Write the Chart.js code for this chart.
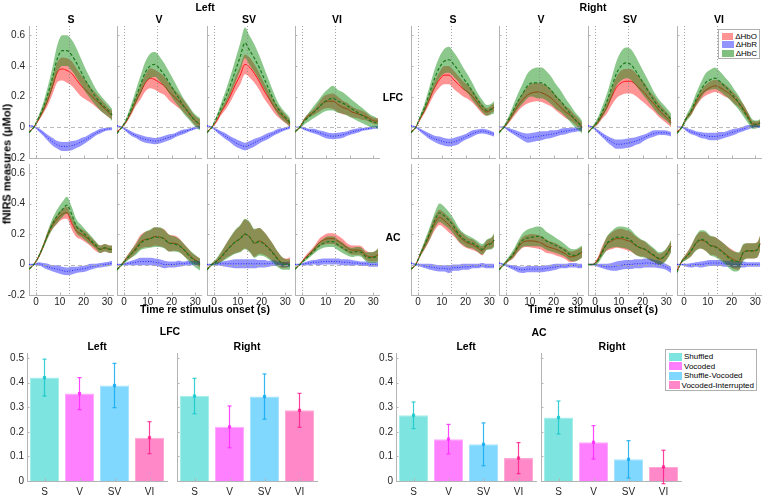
<!DOCTYPE html>
<html lang="en"><head><meta charset="utf-8">
<title>fNIRS responses</title>
<script src="https://cdn.jsdelivr.net/npm/chart.js@4"></script>
<style>
  body { margin: 0; width: 764px; height: 496px; position: relative; overflow: hidden; background: #fff;
         font-family: "Liberation Sans", Arial, sans-serif; color: #000; }
  canvas { position: absolute; }
  .lbl { position: absolute; font-weight: bold; white-space: nowrap; transform: translate(-50%, -50%); line-height: 1; }
  .legend { position: absolute; border: 1px solid #b0b0b0; background: #fff; font-size: 8px; box-sizing: border-box; padding: 2px 2px 0 3px; }
  .legend div { display: flex; align-items: center; white-space: nowrap; }
  .legend span { display: inline-block; width: 13px; margin-right: 2px; }
</style>
</head>
<body>
<script>
// time axis of the block averages (s re stimulus onset)
const T = [-3, -1, 1, 3, 5, 7, 9, 11, 13, 15, 17, 19, 21, 23, 25, 27, 29, 31, 32];
const CONDITIONS = ['S', 'V', 'SV', 'VI'];
const REF_LINES = [0, 13.7];
const X_TICKS = [0, 10, 20, 30];
const Y_TICKS = [-0.2, 0, 0.2, 0.4, 0.6];
const BAR_TICKS = [0, 0.1, 0.2, 0.3, 0.4, 0.5];

// rows = S, V, SV, VI  (mean and s.e.m., µMol)
// ---- LFC, left
const hboLfcL = [
  [-0.03,0.0,0.05,0.11,0.18,0.27,0.36,0.38,0.37,0.35,0.31,0.27,0.24,0.21,0.18,0.15,0.12,0.09,0.08],
  [-0.03,0.0,0.04,0.1,0.17,0.23,0.29,0.32,0.31,0.29,0.27,0.23,0.2,0.17,0.14,0.1,0.06,0.03,0.02],
  [-0.03,0.0,0.04,0.1,0.15,0.21,0.28,0.34,0.41,0.39,0.35,0.3,0.24,0.19,0.14,0.1,0.07,0.04,0.02],
  [-0.03,0.0,0.05,0.08,0.1,0.13,0.16,0.17,0.17,0.15,0.13,0.12,0.1,0.09,0.08,0.07,0.05,0.04,0.04]];
const hboLfcLSem = [
  [0.005,0.005,0.01,0.02,0.035,0.05,0.065,0.075,0.08,0.08,0.075,0.07,0.06,0.05,0.045,0.04,0.035,0.03,0.03],
  [0.005,0.005,0.01,0.02,0.03,0.045,0.055,0.065,0.065,0.065,0.06,0.055,0.05,0.045,0.04,0.035,0.03,0.03,0.03],
  [0.005,0.005,0.01,0.02,0.03,0.04,0.05,0.06,0.065,0.065,0.06,0.055,0.05,0.045,0.04,0.035,0.03,0.025,0.02],
  [0.005,0.005,0.01,0.015,0.02,0.03,0.04,0.045,0.05,0.05,0.045,0.04,0.035,0.03,0.03,0.025,0.02,0.02,0.02]];
const hbrLfcL = [
  [0.01,0.005,-0.015,-0.04,-0.07,-0.095,-0.115,-0.125,-0.125,-0.12,-0.11,-0.095,-0.08,-0.06,-0.04,-0.025,-0.015,-0.01,-0.01],
  [0.01,0.0,-0.02,-0.04,-0.055,-0.07,-0.08,-0.085,-0.09,-0.085,-0.075,-0.065,-0.055,-0.04,-0.03,-0.02,-0.01,0.0,0.0],
  [0.01,0.0,-0.02,-0.04,-0.06,-0.08,-0.1,-0.115,-0.125,-0.115,-0.1,-0.085,-0.07,-0.055,-0.04,-0.025,-0.015,-0.005,0.0],
  [0.0,0.0,-0.01,-0.02,-0.025,-0.035,-0.045,-0.055,-0.058,-0.055,-0.05,-0.04,-0.03,-0.022,-0.015,-0.01,-0.005,0.0,0.0]];
const hbrLfcLSem = [
  [0.005,0.005,0.01,0.015,0.02,0.025,0.025,0.03,0.03,0.03,0.025,0.025,0.02,0.02,0.015,0.015,0.01,0.01,0.01],
  [0.005,0.005,0.01,0.015,0.015,0.02,0.02,0.02,0.02,0.02,0.02,0.02,0.015,0.015,0.015,0.01,0.01,0.01,0.01],
  [0.005,0.005,0.01,0.015,0.02,0.02,0.025,0.025,0.025,0.025,0.025,0.02,0.02,0.02,0.015,0.015,0.01,0.01,0.01],
  [0.005,0.005,0.01,0.01,0.015,0.015,0.02,0.02,0.02,0.02,0.02,0.015,0.015,0.015,0.01,0.01,0.01,0.01,0.01]];
const hbcLfcL = [
  [-0.035,0.0,0.06,0.13,0.22,0.33,0.45,0.5,0.5,0.47,0.42,0.36,0.3,0.25,0.2,0.16,0.13,0.1,0.08],
  [-0.04,0.0,0.05,0.12,0.2,0.28,0.36,0.4,0.41,0.38,0.34,0.29,0.24,0.19,0.14,0.1,0.06,0.03,0.02],
  [-0.035,0.0,0.06,0.13,0.2,0.28,0.37,0.46,0.55,0.5,0.45,0.39,0.32,0.25,0.18,0.12,0.08,0.05,0.03],
  [-0.03,0.0,0.04,0.07,0.1,0.13,0.16,0.18,0.19,0.17,0.16,0.14,0.12,0.1,0.08,0.06,0.04,0.03,0.02]];
const hbcLfcLSem = [
  [0.005,0.005,0.015,0.03,0.05,0.07,0.09,0.1,0.1,0.1,0.095,0.085,0.075,0.065,0.055,0.05,0.045,0.04,0.04],
  [0.005,0.005,0.015,0.03,0.045,0.06,0.07,0.08,0.08,0.08,0.075,0.07,0.065,0.055,0.05,0.045,0.04,0.04,0.04],
  [0.005,0.005,0.015,0.03,0.045,0.06,0.075,0.09,0.1,0.095,0.09,0.08,0.07,0.06,0.05,0.04,0.035,0.03,0.03],
  [0.005,0.01,0.02,0.03,0.04,0.05,0.06,0.07,0.08,0.075,0.07,0.065,0.06,0.055,0.05,0.045,0.04,0.035,0.03]];

// ---- LFC, right
const hboLfcR = [
  [-0.03,0.0,0.06,0.12,0.19,0.26,0.31,0.34,0.34,0.31,0.28,0.25,0.23,0.2,0.16,0.12,0.1,0.12,0.13],
  [-0.03,0.0,0.04,0.09,0.14,0.18,0.21,0.225,0.23,0.225,0.21,0.19,0.16,0.13,0.1,0.08,0.05,0.02,0.0],
  [-0.03,0.0,0.03,0.08,0.13,0.2,0.26,0.29,0.3,0.3,0.28,0.25,0.22,0.18,0.15,0.11,0.08,0.05,0.03],
  [-0.03,0.0,0.06,0.1,0.16,0.21,0.24,0.26,0.27,0.26,0.24,0.22,0.19,0.16,0.12,0.07,0.02,0.02,0.03]];
const hboLfcRSem = [
  [0.005,0.005,0.01,0.02,0.03,0.04,0.05,0.06,0.06,0.06,0.055,0.05,0.045,0.04,0.035,0.03,0.025,0.025,0.025],
  [0.005,0.005,0.015,0.025,0.035,0.045,0.055,0.06,0.06,0.06,0.06,0.055,0.05,0.045,0.04,0.035,0.03,0.03,0.03],
  [0.005,0.005,0.015,0.025,0.04,0.055,0.07,0.08,0.08,0.08,0.075,0.07,0.065,0.055,0.05,0.045,0.04,0.035,0.03],
  [0.005,0.005,0.01,0.02,0.025,0.03,0.035,0.04,0.04,0.04,0.04,0.035,0.035,0.03,0.03,0.025,0.02,0.02,0.02]];
const hbrLfcR = [
  [0.01,0.0,-0.02,-0.04,-0.06,-0.075,-0.085,-0.095,-0.1,-0.095,-0.085,-0.07,-0.055,-0.04,-0.03,-0.025,-0.03,-0.04,-0.045],
  [0.0,0.0,-0.015,-0.03,-0.045,-0.06,-0.07,-0.065,-0.06,-0.055,-0.05,-0.045,-0.04,-0.03,-0.025,-0.02,-0.015,-0.01,-0.01],
  [0.01,0.0,-0.025,-0.05,-0.075,-0.095,-0.11,-0.11,-0.105,-0.1,-0.09,-0.08,-0.065,-0.05,-0.04,-0.035,-0.035,-0.04,-0.045],
  [0.0,0.0,-0.015,-0.03,-0.04,-0.05,-0.055,-0.06,-0.06,-0.055,-0.05,-0.04,-0.03,-0.02,-0.01,0.0,0.005,0.005,0.005]];
const hbrLfcRSem = [
  [0.005,0.005,0.01,0.015,0.02,0.02,0.025,0.025,0.025,0.025,0.025,0.02,0.02,0.02,0.015,0.015,0.015,0.015,0.015],
  [0.005,0.005,0.01,0.015,0.02,0.025,0.03,0.03,0.03,0.03,0.025,0.025,0.02,0.02,0.02,0.015,0.015,0.015,0.015],
  [0.005,0.005,0.01,0.015,0.02,0.025,0.03,0.03,0.03,0.03,0.025,0.025,0.02,0.02,0.02,0.015,0.015,0.015,0.015],
  [0.005,0.005,0.01,0.015,0.015,0.02,0.02,0.025,0.025,0.025,0.02,0.02,0.02,0.015,0.015,0.015,0.01,0.01,0.01]];
const hbcLfcR = [
  [-0.035,0.0,0.07,0.14,0.23,0.32,0.39,0.43,0.44,0.41,0.37,0.32,0.28,0.23,0.18,0.14,0.11,0.12,0.13],
  [-0.035,0.0,0.05,0.11,0.17,0.22,0.27,0.29,0.29,0.29,0.27,0.24,0.2,0.17,0.13,0.09,0.05,0.02,0.0],
  [-0.035,0.0,0.04,0.1,0.17,0.26,0.35,0.4,0.42,0.41,0.37,0.32,0.27,0.22,0.17,0.13,0.1,0.07,0.05],
  [-0.04,0.0,0.06,0.11,0.18,0.24,0.29,0.31,0.32,0.3,0.27,0.24,0.2,0.16,0.11,0.06,0.02,0.02,0.03]];
const hbcLfcRSem = [
  [0.005,0.005,0.015,0.03,0.045,0.06,0.07,0.08,0.085,0.08,0.075,0.07,0.06,0.055,0.045,0.04,0.035,0.035,0.04],
  [0.005,0.01,0.02,0.035,0.05,0.065,0.08,0.09,0.1,0.1,0.095,0.09,0.08,0.07,0.06,0.055,0.05,0.045,0.04],
  [0.005,0.01,0.02,0.035,0.05,0.065,0.08,0.095,0.1,0.1,0.095,0.085,0.075,0.065,0.055,0.05,0.045,0.04,0.04],
  [0.005,0.01,0.02,0.03,0.04,0.05,0.06,0.065,0.07,0.065,0.06,0.055,0.05,0.045,0.04,0.035,0.03,0.025,0.025]];

// ---- AC, left
const hboAcL = [
  [-0.03,0.0,0.05,0.12,0.2,0.26,0.3,0.33,0.34,0.27,0.22,0.2,0.18,0.15,0.12,0.1,0.11,0.1,0.1],
  [-0.03,0.0,0.04,0.07,0.11,0.15,0.165,0.17,0.185,0.18,0.17,0.14,0.14,0.13,0.1,0.07,0.04,0.02,0.01],
  [-0.03,0.0,0.02,0.05,0.09,0.12,0.15,0.17,0.2,0.18,0.14,0.155,0.14,0.11,0.075,0.035,0.01,0.01,0.02],
  [-0.03,0.0,0.04,0.07,0.1,0.14,0.16,0.17,0.17,0.155,0.135,0.11,0.095,0.095,0.09,0.06,0.05,0.055,0.065]];
const hboAcLSem = [
  [0.005,0.005,0.01,0.015,0.02,0.025,0.03,0.035,0.04,0.04,0.04,0.035,0.035,0.03,0.03,0.025,0.025,0.025,0.025],
  [0.005,0.005,0.015,0.025,0.035,0.045,0.05,0.055,0.06,0.06,0.06,0.055,0.05,0.045,0.04,0.035,0.03,0.03,0.03],
  [0.005,0.005,0.015,0.03,0.045,0.06,0.075,0.085,0.095,0.095,0.09,0.085,0.075,0.065,0.055,0.045,0.035,0.03,0.03],
  [0.005,0.005,0.01,0.015,0.02,0.025,0.03,0.035,0.035,0.035,0.035,0.03,0.03,0.03,0.03,0.03,0.03,0.035,0.04]];
const hbrAcL = [
  [0.0,0.0,0.005,-0.005,-0.015,-0.025,-0.03,-0.04,-0.045,-0.04,-0.035,-0.03,-0.025,-0.015,-0.01,-0.005,0.0,0.005,0.01],
  [0.0,0.0,0.005,0.01,0.015,0.02,0.02,0.02,0.015,0.01,0.0,0.0,0.0,0.005,0.005,0.01,0.01,0.01,0.01],
  [0.0,0.0,0.005,0.005,0.005,0.005,0.005,0.005,0.005,0.005,0.005,0.005,0.005,0.005,0.01,0.005,0.0,0.0,-0.005],
  [0.0,0.0,0.005,0.01,0.015,0.015,0.02,0.02,0.02,0.02,0.015,0.015,0.01,0.01,0.005,0.005,0.0,0.0,0.0]];
const hbrAcLSem = [
  [0.005,0.005,0.01,0.015,0.02,0.02,0.025,0.025,0.025,0.025,0.02,0.02,0.02,0.02,0.015,0.015,0.015,0.015,0.015],
  [0.005,0.005,0.01,0.015,0.02,0.025,0.025,0.025,0.025,0.025,0.025,0.02,0.02,0.02,0.015,0.015,0.015,0.015,0.015],
  [0.005,0.005,0.01,0.015,0.02,0.025,0.03,0.03,0.03,0.03,0.03,0.025,0.025,0.02,0.02,0.015,0.015,0.015,0.015],
  [0.005,0.005,0.01,0.015,0.015,0.02,0.02,0.02,0.02,0.02,0.02,0.02,0.02,0.015,0.015,0.015,0.015,0.015,0.015]];
const hbcAcL = [
  [-0.03,0.0,0.05,0.12,0.2,0.27,0.32,0.36,0.39,0.33,0.25,0.22,0.19,0.16,0.13,0.1,0.11,0.1,0.1],
  [-0.035,0.0,0.035,0.07,0.1,0.14,0.16,0.17,0.18,0.18,0.165,0.14,0.135,0.125,0.1,0.065,0.035,0.01,0.0],
  [-0.035,0.0,0.02,0.05,0.085,0.12,0.15,0.17,0.2,0.18,0.14,0.15,0.135,0.105,0.07,0.03,0.005,0.0,0.0],
  [-0.03,0.0,0.03,0.06,0.09,0.12,0.14,0.15,0.15,0.13,0.11,0.09,0.08,0.085,0.08,0.05,0.045,0.05,0.06]];
const hbcAcLSem = [
  [0.005,0.005,0.01,0.015,0.025,0.035,0.045,0.05,0.055,0.05,0.045,0.04,0.035,0.03,0.025,0.025,0.025,0.025,0.025],
  [0.005,0.01,0.015,0.025,0.035,0.045,0.055,0.06,0.065,0.065,0.06,0.055,0.05,0.045,0.04,0.04,0.04,0.04,0.04],
  [0.005,0.01,0.02,0.035,0.05,0.065,0.08,0.09,0.1,0.1,0.095,0.09,0.08,0.07,0.06,0.05,0.04,0.035,0.035],
  [0.005,0.005,0.01,0.015,0.02,0.025,0.03,0.035,0.035,0.035,0.035,0.03,0.03,0.03,0.03,0.03,0.035,0.04,0.045]];

// ---- AC, right
const hboAcR = [
  [-0.03,0.0,0.07,0.13,0.2,0.27,0.31,0.29,0.26,0.23,0.19,0.16,0.14,0.13,0.11,0.09,0.13,0.14,0.16],
  [-0.03,0.0,0.03,0.06,0.11,0.145,0.155,0.155,0.15,0.14,0.12,0.11,0.1,0.085,0.07,0.05,0.055,0.07,0.08],
  [0.0,0.0,0.03,0.09,0.135,0.155,0.17,0.17,0.16,0.15,0.125,0.11,0.1,0.075,0.055,0.035,0.05,0.09,0.12],
  [-0.04,0.02,0.055,0.09,0.14,0.16,0.15,0.125,0.12,0.1,0.075,0.05,0.03,0.02,0.08,0.09,0.09,0.1,0.14]];
const hboAcRSem = [
  [0.005,0.005,0.015,0.025,0.035,0.045,0.05,0.05,0.05,0.045,0.04,0.04,0.035,0.035,0.03,0.03,0.03,0.035,0.04],
  [0.005,0.005,0.01,0.02,0.03,0.035,0.04,0.045,0.045,0.045,0.045,0.04,0.04,0.035,0.035,0.035,0.035,0.035,0.035],
  [0.005,0.005,0.015,0.03,0.045,0.055,0.06,0.065,0.065,0.065,0.06,0.055,0.05,0.045,0.04,0.035,0.035,0.035,0.035],
  [0.005,0.01,0.02,0.035,0.045,0.055,0.06,0.06,0.06,0.06,0.06,0.06,0.06,0.055,0.05,0.05,0.05,0.05,0.05]];
const hbrAcR = [
  [0.01,0.0,-0.005,-0.01,-0.015,-0.02,-0.025,-0.025,-0.03,-0.02,-0.02,-0.015,-0.015,-0.01,-0.01,-0.005,-0.01,-0.01,-0.01],
  [0.01,0.0,-0.01,-0.02,-0.03,-0.035,-0.03,-0.03,-0.03,-0.03,-0.025,-0.02,-0.015,-0.01,-0.01,-0.005,-0.005,-0.01,-0.01],
  [0.0,0.0,-0.005,-0.01,-0.015,-0.015,-0.01,-0.005,0.0,0.0,0.005,0.005,0.01,0.01,0.005,0.0,-0.01,-0.025,-0.035],
  [0.0,0.0,-0.005,-0.005,0.0,0.0,0.005,0.01,0.01,0.01,0.005,0.005,0.0,0.0,0.0,0.0,0.0,0.0,0.0]];
const hbrAcRSem = [
  [0.005,0.005,0.01,0.015,0.02,0.02,0.02,0.02,0.025,0.02,0.02,0.02,0.02,0.015,0.015,0.015,0.015,0.015,0.015],
  [0.005,0.005,0.01,0.015,0.02,0.02,0.02,0.02,0.02,0.02,0.02,0.02,0.02,0.015,0.015,0.015,0.015,0.015,0.015],
  [0.005,0.005,0.01,0.015,0.02,0.025,0.03,0.03,0.03,0.03,0.03,0.03,0.03,0.03,0.025,0.025,0.02,0.02,0.02],
  [0.005,0.005,0.01,0.015,0.015,0.02,0.02,0.02,0.02,0.02,0.02,0.02,0.02,0.02,0.02,0.015,0.015,0.015,0.015]];
const hbcAcR = [
  [-0.03,0.0,0.07,0.14,0.21,0.29,0.34,0.32,0.29,0.25,0.2,0.17,0.15,0.14,0.12,0.1,0.13,0.14,0.16],
  [-0.035,0.0,0.035,0.07,0.12,0.16,0.175,0.18,0.185,0.18,0.155,0.14,0.125,0.11,0.09,0.065,0.06,0.075,0.085],
  [0.0,0.0,0.02,0.08,0.14,0.165,0.18,0.18,0.175,0.16,0.13,0.11,0.1,0.08,0.06,0.04,0.05,0.09,0.12],
  [-0.05,0.02,0.05,0.09,0.14,0.165,0.155,0.125,0.115,0.095,0.07,0.04,0.02,0.02,0.08,0.09,0.09,0.1,0.14]];
const hbcAcRSem = [
  [0.005,0.005,0.015,0.03,0.04,0.05,0.06,0.06,0.055,0.05,0.045,0.04,0.04,0.035,0.035,0.035,0.035,0.04,0.045],
  [0.005,0.01,0.015,0.025,0.035,0.045,0.055,0.06,0.065,0.065,0.06,0.055,0.05,0.045,0.04,0.04,0.04,0.04,0.04],
  [0.005,0.005,0.015,0.03,0.045,0.055,0.065,0.07,0.07,0.07,0.065,0.06,0.055,0.05,0.045,0.04,0.04,0.04,0.04],
  [0.005,0.01,0.02,0.035,0.05,0.06,0.065,0.065,0.065,0.065,0.065,0.065,0.065,0.06,0.055,0.05,0.05,0.05,0.05]];

// peak HbO (bar heights) and their s.e.m.
const barLfcL = [0.42, 0.355, 0.388, 0.176];
const errLfcL = [0.075, 0.065, 0.09, 0.065];
const barLfcR = [0.345, 0.22, 0.343, 0.287];
const errLfcR = [0.072, 0.085, 0.092, 0.069];
const barAcL = [0.267, 0.17, 0.149, 0.093];
const errAcL = [0.054, 0.06, 0.087, 0.063];
const barAcR = [0.258, 0.157, 0.088, 0.057];
const errAcR = [0.067, 0.068, 0.076, 0.068];

const AXIS = '#b4b4b4';
const HB_LINE = ['#ff1414', '#2424ff', '#1c7a1c'];
const HB_BAND = ['rgba(255,0,0,0.42)', 'rgba(0,0,255,0.42)', 'rgba(10,135,10,0.47)'];
const HB_DASH = [[], [1, 1.6], [3.2, 2]];
const BAR_FILL = ['#7de4e0', '#ff80ff', '#80d8ff', '#ff88c8'];
const BAR_EDGE = ['#a6eeeb', '#ffaaff', '#a8e4ff', '#ffaad6'];
const BAR_ERR = ['rgba(20,200,205,0.85)', 'rgba(255,40,255,0.85)', 'rgba(20,170,240,0.85)', 'rgba(255,30,140,0.85)'];

Chart.defaults.font.family = '"Liberation Sans", Arial, sans-serif';
Chart.defaults.font.size = 10;
Chart.defaults.color = '#262626';

const YW = 30;       // fixed room for the y tick labels
const XH = 16;       // fixed room for the x tick labels
const PANEL_W = 84;
const PANEL_X = { Left: [29, 117, 207, 295], Right: [411, 499, 588, 677] };
const ROWS = [{ top: 26, h: 132 }, { top: 164, h: 131 }];

function makeCanvas(left, top, w, h) {
  const c = document.createElement('canvas');
  c.width = w; c.height = h;
  c.style.left = left + 'px'; c.style.top = top + 'px';
  c.style.width = w + 'px'; c.style.height = h + 'px';
  document.body.appendChild(c);
  return c;
}

function addLabel(text, x, y, size, rotate) {
  const d = document.createElement('div');
  d.className = 'lbl';
  d.textContent = text;
  d.style.left = x + 'px'; d.style.top = y + 'px';
  d.style.fontSize = size + 'px';
  if (rotate) d.style.transform = 'translate(-50%,-50%) rotate(-90deg)';
  document.body.appendChild(d);
}

// reference lines, inward ticks (MATLAB style) and error bars
const decor = {
  id: 'decor',
  afterDatasetsDraw(chart, args, o) {
    const { ctx, chartArea: a, scales: { x, y } } = chart;
    const line = (x1, y1, x2, y2) => { ctx.beginPath(); ctx.moveTo(x1, y1); ctx.lineTo(x2, y2); ctx.stroke(); };
    ctx.save();
    if (o.refs) {
      ctx.lineWidth = 0.8;
      ctx.strokeStyle = '#8a8a8a';
      ctx.setLineDash([1, 2]);
      o.refs.forEach(v => { const px = Math.round(x.getPixelForValue(v)) + 0.5; line(px, a.top, px, a.bottom); });
      ctx.strokeStyle = '#a8a8a8';
      ctx.setLineDash([4, 3]);
      const py = Math.round(y.getPixelForValue(0)) + 0.5;
      line(a.left, py, a.right, py);
    }
    if (o.errs) {
      const meta = chart.getDatasetMeta(0);
      const vals = chart.data.datasets[0].data;
      ctx.setLineDash([]);
      meta.data.forEach((bar, i) => {
        const v = vals[i], e = o.errs[i];
        const top = y.getPixelForValue(v + e), bot = y.getPixelForValue(v - e), mid = y.getPixelForValue(v);
        ctx.strokeStyle = o.errColors[i];
        ctx.fillStyle = o.errColors[i];
        ctx.lineWidth = 1.2;
        line(bar.x, top, bar.x, bot);
        line(bar.x - 2, top, bar.x + 2, top);
        line(bar.x - 2, bot, bar.x + 2, bot);
        ctx.fillRect(bar.x - 1.6, mid - 1.6, 3.2, 3.2);
      });
    }
    ctx.setLineDash([]);
    ctx.strokeStyle = AXIS;
    ctx.lineWidth = 1;
    y.ticks.forEach(t => { const py = Math.round(y.getPixelForValue(t.value)) + 0.5; line(a.left, py, a.left + 2.5, py); });
    x.ticks.forEach((t, i) => { const px = Math.round(x.getPixelForTick(i)) + 0.5; line(px, a.bottom, px, a.bottom - 2.5); });
    ctx.restore();
  }
};

const tickFmt = v => (v === 0 ? '0' : v.toFixed(1));

function linePanel(left, top, h, series, showY, showX) {
  const cv = makeCanvas(left - YW, top - 4, YW + PANEL_W + 2, 4 + h + XH);
  const datasets = [];
  series.forEach(([mean, sem], k) => {
    const ord = 6 - 2 * k;
    const common = { pointRadius: 0, cubicInterpolationMode: 'monotone' };
    datasets.push({ ...common, data: T.map((t, i) => ({ x: t, y: mean[i] + sem[i] })), borderWidth: 0, fill: false, order: ord });
    datasets.push({ ...common, data: T.map((t, i) => ({ x: t, y: mean[i] - sem[i] })), borderWidth: 0, fill: '-1',
                    backgroundColor: HB_BAND[k], order: ord });
    datasets.push({ ...common, data: T.map((t, i) => ({ x: t, y: mean[i] })), borderColor: HB_LINE[k],
                    borderWidth: k === 2 ? 1.2 : 1, borderDash: HB_DASH[k], fill: false, order: ord - 1 });
  });
  new Chart(cv, {
    type: 'line',
    data: { datasets },
    plugins: [decor],
    options: {
      responsive: false, animation: false, events: [],
      layout: { padding: { top: 4, right: 2, left: 0, bottom: 0 } },
      plugins: { legend: { display: false }, tooltip: { enabled: false }, decor: { refs: REF_LINES } },
      scales: {
        x: {
          type: 'linear', min: -3, max: 32.4,
          grid: { display: false, drawTicks: false }, border: { color: AXIS },
          ticks: { display: showX, padding: 1, maxRotation: 0 },
          afterBuildTicks: s => { s.ticks = X_TICKS.map(v => ({ value: v })); },
          afterFit: s => { s.height = XH; s.paddingLeft = 0; s.paddingRight = 0; }
        },
        y: {
          min: -0.2, max: 0.66,
          grid: { display: false, drawTicks: false }, border: { color: AXIS },
          ticks: { display: showY, padding: 4, callback: tickFmt },
          afterBuildTicks: s => { s.ticks = Y_TICKS.map(v => ({ value: v })); },
          afterFit: s => { s.width = YW; s.paddingTop = 0; s.paddingBottom = 0; }
        }
      }
    }
  });
}

const lineData = {
  LFC: { Left:  [[hboLfcL, hboLfcLSem], [hbrLfcL, hbrLfcLSem], [hbcLfcL, hbcLfcLSem]],
         Right: [[hboLfcR, hboLfcRSem], [hbrLfcR, hbrLfcRSem], [hbcLfcR, hbcLfcRSem]] },
  AC:  { Left:  [[hboAcL, hboAcLSem], [hbrAcL, hbrAcLSem], [hbcAcL, hbcAcLSem]],
         Right: [[hboAcR, hboAcRSem], [hbrAcR, hbrAcRSem], [hbcAcR, hbcAcRSem]] }
};

['LFC', 'AC'].forEach((region, r) => {
  ['Left', 'Right'].forEach(hemi => {
    CONDITIONS.forEach((cond, c) => {
      const series = lineData[region][hemi].map(([m, s]) => [m[c], s[c]]);
      linePanel(PANEL_X[hemi][c], ROWS[r].top, ROWS[r].h, series, hemi === 'Left' && c === 0, r === 1);
    });
  });
});

function barPanel(left, vals, errs, showY) {
  const top = 353, h = 128, w = 140, xh = 18;
  const cv = makeCanvas(left - YW, top - 6, YW + w + 2, 6 + h + xh);
  new Chart(cv, {
    type: 'bar',
    data: { labels: CONDITIONS, datasets: [{ data: vals, backgroundColor: BAR_FILL, borderColor: BAR_EDGE,
            borderWidth: 1, borderSkipped: 'bottom', barPercentage: 0.83, categoryPercentage: 1 }] },
    plugins: [decor],
    options: {
      responsive: false, animation: false, events: [],
      layout: { padding: { top: 6, right: 2, left: 0, bottom: 0 } },
      plugins: { legend: { display: false }, tooltip: { enabled: false }, decor: { errs, errColors: BAR_ERR } },
      scales: {
        x: {
          grid: { display: false, drawTicks: false }, border: { color: AXIS },
          ticks: { padding: 5 },
          afterFit: s => { s.height = xh; s.paddingLeft = 0; s.paddingRight = 0; }
        },
        y: {
          min: 0, max: 0.52,
          grid: { display: false, drawTicks: false }, border: { color: AXIS },
          ticks: { display: showY, padding: 3, callback: tickFmt },
          afterBuildTicks: s => { s.ticks = BAR_TICKS.map(v => ({ value: v })); },
          afterFit: s => { s.width = YW; s.paddingTop = 0; s.paddingBottom = 0; }
        }
      }
    }
  });
}

barPanel(27, barLfcL, errLfcL, true);
barPanel(177, barLfcR, errLfcR, false);
barPanel(396, barAcL, errAcL, true);
barPanel(541, barAcR, errAcR, false);

// titles and axis labels
addLabel('Left', 205, 7, 10.5);
addLabel('Right', 593, 7, 10.5);
['Left', 'Right'].forEach(hemi => {
  CONDITIONS.forEach((cond, c) => addLabel(cond, PANEL_X[hemi][c] + PANEL_W / 2, 19, 10.5));
});
addLabel('LFC', 393, 97, 10.5);
addLabel('AC', 393, 237, 10.5);
addLabel('fNIRS measures (\u03bcMol)', 7, 164, 11, true);
addLabel('Time re stimulus onset (s)', 205, 309, 10.5);
addLabel('Time re stimulus onset (s)', 593, 309, 10.5);
addLabel('LFC', 170, 331, 10.5);
addLabel('Left', 97, 346, 10.5);
addLabel('Right', 247, 346, 10.5);
addLabel('AC', 539, 332, 10.5);
addLabel('Left', 466, 346, 10.5);
addLabel('Right', 612, 346, 10.5);

function addLegend(left, top, w, h, rowH, names, colors) {
  const box = document.createElement('div');
  box.className = 'legend';
  Object.assign(box.style, { left: left + 'px', top: top + 'px', width: w + 'px', height: h + 'px' });
  names.forEach((n, i) => {
    const row = document.createElement('div');
    row.style.height = rowH + 'px';
    const sw = document.createElement('span');
    sw.style.height = (rowH - 1.5) + 'px';
    sw.style.background = colors[i];
    row.appendChild(sw);
    row.appendChild(document.createTextNode(n));
    box.appendChild(row);
  });
  document.body.appendChild(box);
}

addLegend(718, 29, 42, 30, 8.5, ['\u0394HbO', '\u0394HbR', '\u0394HbC'],
          ['rgb(255,148,148)', 'rgb(148,148,255)', 'rgb(128,191,128)']);
addLegend(665, 349, 92, 42, 9.5, ['Shuffled', 'Vocoded', 'Shuffle-Vocoded', 'Vocoded-Interrupted'], BAR_FILL);
</script>
</body></html>
